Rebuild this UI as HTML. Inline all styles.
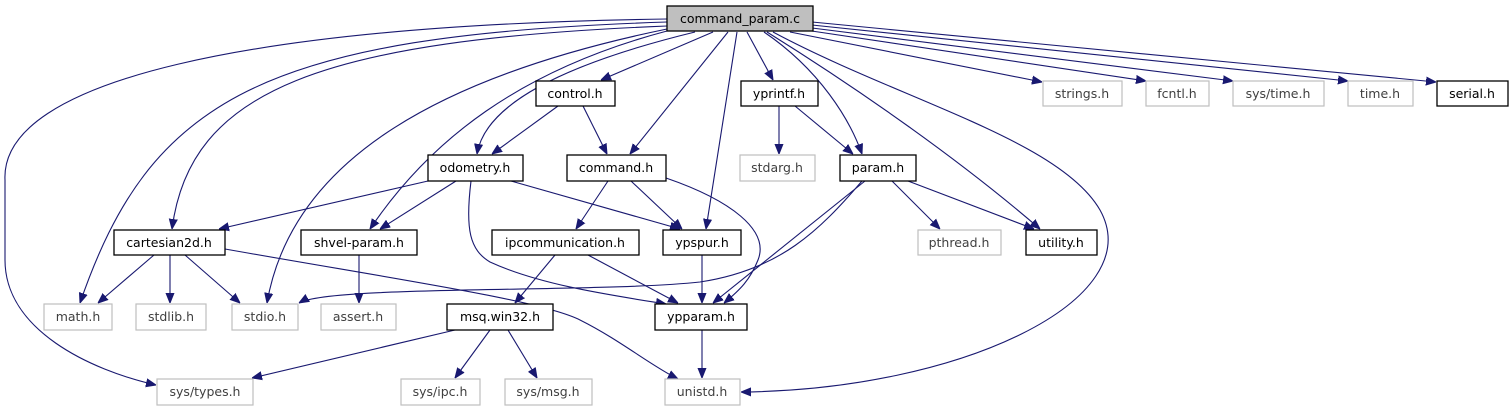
<!DOCTYPE html>
<html><head><meta charset="utf-8"><style>
html,body{margin:0;padding:0;background:#fff;}
svg{display:block;}
text{font-family:"DejaVu Sans","Liberation Sans",sans-serif;font-size:12.5px;text-anchor:middle;}
.e{fill:none;stroke:#191970;stroke-width:1.1;marker-end:url(#a);}
.b{fill:#fff;stroke:#000;stroke-width:1.3;}
.g{fill:#fff;stroke:#bfbfbf;stroke-width:1.2;}
.tg{fill:#3f3f3f;}
</style></head><body>
<svg width="1512" height="411" viewBox="0 0 1512 411" xmlns="http://www.w3.org/2000/svg">
<defs><marker id="a" viewBox="0 0 10 10" refX="10" refY="5" markerWidth="10" markerHeight="10" markerUnits="userSpaceOnUse" orient="auto"><path d="M0,1 L10,5 L0,9 z" fill="#191970" stroke="#191970"/></marker></defs>
<!-- edges from command_param.c -->
<path class="e" d="M713,32 L601,80"/>
<path class="e" d="M747,32 L773,80"/>
<path class="e" d="M695,32 C560,65 485,105 477,154"/>
<path class="e" d="M728,32 L630,154"/>
<path class="e" d="M737,32 L706,229"/>
<path class="e" d="M764,32 C820,70 850,120 862,154"/>
<path class="e" d="M767,32 C860,90 960,160 1040,229"/>
<path class="e" d="M773,32 C900,100 1060,140 1100,210 C1150,300 960,390 741,392"/>
<path class="e" d="M790,32 L1042,82"/>
<path class="e" d="M805,30 L1146,81"/>
<path class="e" d="M812,28 L1233,81"/>
<path class="e" d="M812,25 L1348,81"/>
<path class="e" d="M812,22 L1436,82"/>
<path class="e" d="M667,26 C320,40 190,90 172,229"/>
<path class="e" d="M667,22 C260,35 150,100 80,303"/>
<path class="e" d="M667,19 C250,25 0,80 5,180 L5,260 C5,330 90,370 156,385"/>
<path class="e" d="M667,29 C420,80 290,170 267,303"/>
<path class="e" d="M667,31 C520,70 430,140 370,229"/>
<!-- control -->
<path class="e" d="M558,106 L492,154"/>
<path class="e" d="M583,106 L607,154"/>
<!-- yprintf -->
<path class="e" d="M779,106 L779,154"/>
<path class="e" d="M795,106 L853,154"/>
<!-- odometry -->
<path class="e" d="M428,181 L219,229"/>
<path class="e" d="M456,181 L380,229"/>
<path class="e" d="M511,181 L680,229"/>
<path class="e" d="M471,181 C465,230 470,250 490,262 C540,285 610,295 666,304"/>
<!-- command.h -->
<path class="e" d="M608,181 L576,229"/>
<path class="e" d="M631,181 L682,229"/>
<path class="e" d="M666,178 C730,200 770,230 758,260 C750,280 740,290 724,303"/>
<!-- param -->
<path class="e" d="M865,181 L713,303"/>
<path class="e" d="M862,181 C820,230 780,270 700,282 C600,293 330,285 299,303"/>
<path class="e" d="M892,181 L940,229"/>
<path class="e" d="M908,181 L1034,229"/>
<!-- cartesian -->
<path class="e" d="M154,255 L98,303"/>
<path class="e" d="M170,255 L170,303"/>
<path class="e" d="M185,255 L240,303"/>
<path class="e" d="M225,249 C400,280 540,300 580,320 C620,340 650,365 678,379"/>
<!-- shvel -->
<path class="e" d="M359,255 L359,303"/>
<!-- ipcomm -->
<path class="e" d="M555,255 L515,303"/>
<path class="e" d="M588,255 L678,303"/>
<!-- ypspur -->
<path class="e" d="M702,255 L702,303"/>
<!-- msq -->
<path class="e" d="M455,330 L252,378"/>
<path class="e" d="M490,330 L455,378"/>
<path class="e" d="M508,330 L537,378"/>
<!-- ypparam -->
<path class="e" d="M702,330 L702,378"/>

<!-- nodes -->
<rect x="667" y="6" width="146" height="25" fill="#bfbfbf" stroke="#000" stroke-width="1.3"/><text x="740" y="23">command_param.c</text>
<rect class="b" x="536" y="81" width="79" height="25"/><text x="575" y="98">control.h</text>
<rect class="b" x="741" y="81" width="77" height="25"/><text x="779" y="98">yprintf.h</text>
<rect class="g" x="1043" y="81" width="79" height="25"/><text class="tg" x="1082" y="98">strings.h</text>
<rect class="g" x="1146" y="81" width="63" height="25"/><text class="tg" x="1177" y="98">fcntl.h</text>
<rect class="g" x="1233" y="81" width="91" height="25"/><text class="tg" x="1278" y="98">sys/time.h</text>
<rect class="g" x="1348" y="81" width="65" height="25"/><text class="tg" x="1380" y="98">time.h</text>
<rect class="b" x="1437" y="81" width="71" height="25"/><text x="1472" y="98">serial.h</text>

<rect class="b" x="428" y="155" width="95" height="26"/><text x="475" y="172">odometry.h</text>
<rect class="b" x="567" y="155" width="99" height="26"/><text x="616" y="172">command.h</text>
<rect class="g" x="740" y="155" width="75" height="26"/><text class="tg" x="777" y="172">stdarg.h</text>
<rect class="b" x="840" y="155" width="76" height="26"/><text x="878" y="172">param.h</text>

<rect class="b" x="114" y="230" width="111" height="25"/><text x="169" y="247">cartesian2d.h</text>
<rect class="b" x="301" y="230" width="116" height="25"/><text x="359" y="247">shvel-param.h</text>
<rect class="b" x="492" y="230" width="147" height="25"/><text x="565" y="247">ipcommunication.h</text>
<rect class="b" x="663" y="230" width="78" height="25"/><text x="702" y="247">ypspur.h</text>
<rect class="g" x="918" y="230" width="83" height="25"/><text class="tg" x="959" y="247">pthread.h</text>
<rect class="b" x="1026" y="230" width="71" height="25"/><text x="1061" y="247">utility.h</text>

<rect class="g" x="44" y="304" width="68" height="26"/><text class="tg" x="78" y="321">math.h</text>
<rect class="g" x="136" y="304" width="70" height="26"/><text class="tg" x="171" y="321">stdlib.h</text>
<rect class="g" x="232" y="304" width="66" height="26"/><text class="tg" x="265" y="321">stdio.h</text>
<rect class="g" x="321" y="304" width="75" height="26"/><text class="tg" x="358" y="321">assert.h</text>
<rect class="b" x="447" y="304" width="106" height="26"/><text x="500" y="321">msq.win32.h</text>
<rect class="b" x="655" y="304" width="92" height="26"/><text x="701" y="321">ypparam.h</text>

<rect class="g" x="157" y="379" width="96" height="26"/><text class="tg" x="205" y="396">sys/types.h</text>
<rect class="g" x="401" y="379" width="79" height="26"/><text class="tg" x="440" y="396">sys/ipc.h</text>
<rect class="g" x="505" y="379" width="87" height="26"/><text class="tg" x="548" y="396">sys/msg.h</text>
<rect class="g" x="665" y="379" width="75" height="26"/><text class="tg" x="702" y="396">unistd.h</text>
</svg>
</body></html>
